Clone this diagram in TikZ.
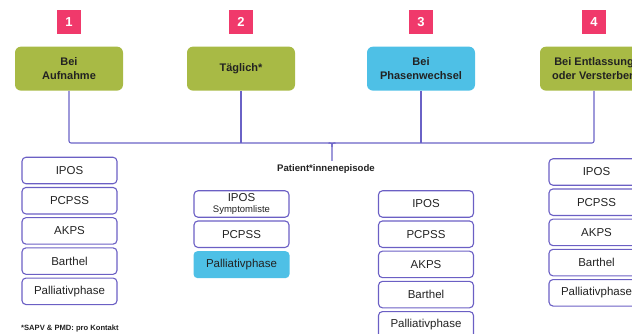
\documentclass[tikz,border=0pt]{standalone}
\usepackage{fontspec}
\setmainfont{Liberation Sans}
\usetikzlibrary{calc, positioning}
\definecolor{numpink}{HTML}{F0396B}
\definecolor{stagegreen}{HTML}{A8BA45}
\definecolor{stageblue}{HTML}{4EC0E6}
\definecolor{linkviolet}{HTML}{6A62C6}
\definecolor{frameviolet}{HTML}{6B5FC4}
\definecolor{inktext}{HTML}{222222}

\begin{document}
\begin{tikzpicture}[x=1pt, y=-1pt,
  num/.style={fill=numpink, text=white, font=\bfseries\fontsize{13}{13}\selectfont,
    minimum size=24.5pt, inner sep=0pt},
  stage/.style={fill=stagegreen, rounded corners=6pt, minimum width=108pt,
    minimum height=44pt, inner sep=0pt, align=center, text=inktext,
    font=\bfseries\fontsize{11}{14}\selectfont},
  item/.style={draw=frameviolet, line width=1.1pt, rounded corners=4pt,
    minimum width=95pt, minimum height=26.5pt, inner sep=0pt, align=center,
    text=inktext, font=\fontsize{11.5}{12}\selectfont},
  conn/.style={draw=linkviolet, line width=1.1pt, rounded corners=2pt},
  node distance=2.6pt]
\useasboundingbox (0,0) rectangle (632,334);
\clip (0,0) rectangle (632,334);

% numbers and stages
\node[num] (n1) at (69,22) {1};
\node[num] (n2) at (241,22) {2};
\node[num] (n3) at (421,22) {3};
\node[num] (n4) at (594,22) {4};
\node[stage, below=12pt of n1] (aufn) {Bei\\Aufnahme};
\node[stage, below=12pt of n2] (taegl) {Täglich*};
\node[stage, below=12pt of n3, fill=stageblue] (phase) {Bei\\Phasenwechsel};
\node[stage, below=12pt of n4] (entl) {Bei Entlassung\\oder Versterben};

% brace
\coordinate (tip) at (332,143);
\coordinate (tipL) at ($(tip)+(-3.5,0)$);
\coordinate (tipR) at ($(tip)+(3.5,0)$);
\coordinate (tipM) at ($(tip)+(0,4)$);
\coordinate (tipE) at ($(tip)+(0,18)$);
\draw[conn] (aufn.south) |- (tip) -| (entl.south);
\draw[conn] (taegl.south) -- (taegl.south |- tip);
\draw[conn] (phase.south) -- (phase.south |- tip);
\draw[conn, rounded corners=0pt] (tipL) .. controls (tip) .. (tipM) -- (tipE);
\draw[conn, rounded corners=0pt] (tipR) .. controls (tip) .. (tipM);
\node[font=\bfseries\fontsize{9.6}{10}\selectfont, text=inktext] (episode) at (326,169) {Patient*innenepisode};

% column 1
\node[item] (a1) at (69.5,170.5) {IPOS};
\node[item, below=of a1] (a2) {PCPSS};
\node[item, below=of a2] (a3) {AKPS};
\node[item, below=of a3] (a4) {Barthel};
\node[item, below=of a4] (a5) {Palliativphase};

% column 2
\node[item] (b1) at (241.5,204) {IPOS\\[-1.5pt]{\fontsize{9.5}{10}\selectfont Symptomliste}};
\node[item, below=of b1] (b2) {PCPSS};
\node[item, below=of b2, draw=none, fill=stageblue, minimum width=96pt,
  minimum height=27pt] (b3) {Palliativphase};

% column 3
\node[item] (c1) at (426,204) {IPOS};
\node[item, below=of c1] (c2) {PCPSS};
\node[item, below=of c2] (c3) {AKPS};
\node[item, below=of c3] (c4) {Barthel};
\node[item, below=of c4] (c5) {Palliativphase};

% column 4
\node[item] (d1) at (596.5,172) {IPOS};
\node[item, below=of d1] (d2) {PCPSS};
\node[item, below=of d2] (d3) {AKPS};
\node[item, below=of d3] (d4) {Barthel};
\node[item, below=of d4] (d5) {Palliativphase};

\node[anchor=west, inner sep=0pt, text=inktext, font=\bfseries\fontsize{7.6}{8}\selectfont]
  (note) at (21,329) {*SAPV \& PMD: pro Kontakt};
\end{tikzpicture}
\end{document}
